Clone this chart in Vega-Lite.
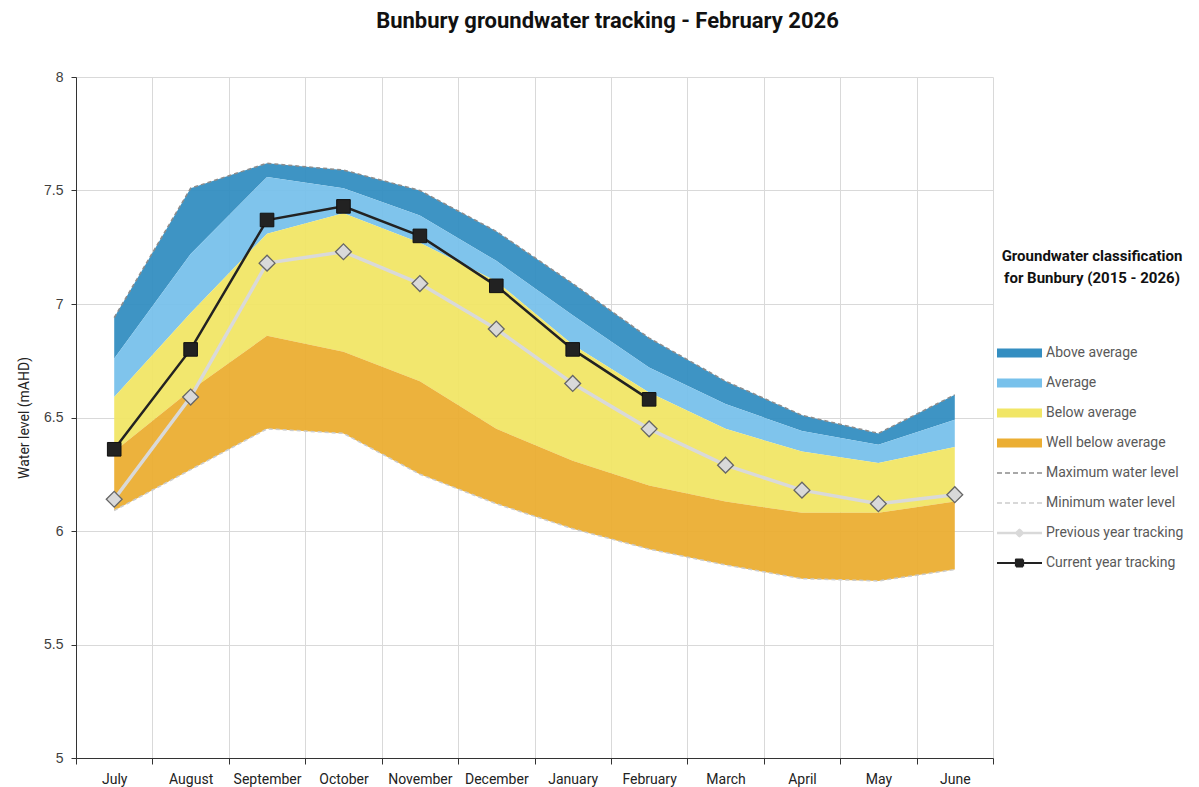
{
  "$schema": "https://vega.github.io/schema/vega-lite/v6.json",
  "width": 917,
  "height": 681,
  "autosize": {"type": "none"},
  "padding": {"left": 76, "top": 77, "right": 206, "bottom": 29},
  "background": "white",
  "config": {"view": {"stroke": null}},
  "title": {"text": "Bunbury groundwater tracking - February 2026", "font": "Roboto", "fontSize": 22, "fontWeight": "bold", "color": "#111111", "anchor": "middle", "dx": 73, "offset": 37},
  "data": {"values": [
    {"month": "July", "max": 6.94, "aa": 6.76, "ab": 6.59, "bw": 6.35, "min": 6.09, "cur": 6.36, "prev": 6.14},
    {"month": "August", "max": 7.51, "aa": 7.22, "ab": 6.96, "bw": 6.62, "min": 6.27, "cur": 6.80, "prev": 6.59},
    {"month": "September", "max": 7.62, "aa": 7.56, "ab": 7.31, "bw": 6.86, "min": 6.45, "cur": 7.37, "prev": 7.18},
    {"month": "October", "max": 7.59, "aa": 7.51, "ab": 7.40, "bw": 6.79, "min": 6.43, "cur": 7.43, "prev": 7.23},
    {"month": "November", "max": 7.50, "aa": 7.39, "ab": 7.27, "bw": 6.66, "min": 6.25, "cur": 7.30, "prev": 7.09},
    {"month": "December", "max": 7.32, "aa": 7.19, "ab": 7.10, "bw": 6.45, "min": 6.12, "cur": 7.08, "prev": 6.89},
    {"month": "January", "max": 7.09, "aa": 6.95, "ab": 6.82, "bw": 6.31, "min": 6.01, "cur": 6.80, "prev": 6.65},
    {"month": "February", "max": 6.85, "aa": 6.72, "ab": 6.61, "bw": 6.20, "min": 5.92, "cur": 6.58, "prev": 6.45},
    {"month": "March", "max": 6.66, "aa": 6.56, "ab": 6.45, "bw": 6.13, "min": 5.85, "prev": 6.29},
    {"month": "April", "max": 6.51, "aa": 6.44, "ab": 6.35, "bw": 6.08, "min": 5.79, "prev": 6.18},
    {"month": "May", "max": 6.43, "aa": 6.38, "ab": 6.30, "bw": 6.08, "min": 5.78, "prev": 6.12},
    {"month": "June", "max": 6.60, "aa": 6.49, "ab": 6.37, "bw": 6.13, "min": 5.83, "prev": 6.16}
  ]},
  "encoding": {
    "x": {
      "field": "month", "type": "ordinal",
      "sort": ["July","August","September","October","November","December","January","February","March","April","May","June"],
      "scale": {"type": "band", "paddingInner": 0, "paddingOuter": 0, "domain": ["July","August","September","October","November","December","January","February","March","April","May","June"]},
      "axis": {"title": null, "tickBand": "extent", "grid": true, "gridColor": "#d9d9d9", "gridWidth": 1, "domainColor": "#333333", "tickColor": "#333333", "tickSize": 6, "labelFont": "Roboto", "labelFontSize": 14, "labelColor": "#222222", "labelPadding": 8, "labelAngle": 0}
    }
  },
  "layer": [
    {"mark": {"type": "area", "fillOpacity": 0.95},
     "encoding": {
       "y": {"field": "max", "type": "quantitative", "title": "Water level (mAHD)",
             "scale": {"domain": [5, 8], "nice": false, "zero": false},
             "axis": {"values": [5, 5.5, 6, 6.5, 7, 7.5, 8], "format": "~g", "grid": true, "gridColor": "#d9d9d9", "domainColor": "#333333", "tickColor": "#333333", "tickSize": 5, "labelPadding": 8, "labelFont": "Liberation Sans", "labelFontSize": 14, "labelColor": "#404040", "titleFont": "Roboto", "titleFontSize": 14, "titleFontWeight": "normal", "titleColor": "#222222", "titlePadding": 12}},
       "y2": {"field": "aa"},
       "color": {"datum": "Above average", "type": "nominal",
         "scale": {"domain": ["Above average","Average","Below average","Well below average","Maximum water level","Minimum water level","Previous year tracking","Current year tracking"],
                   "range": ["#348EC1","#78C1EB","#F1E666","#EBAE33","#8c8c8c","#cccccc","#d9d9d9","#222222"]},
         "legend": {
           "title": ["Groundwater classification", "for Bunbury (2015 - 2026)"],
           "orient": "none", "legendX": 924, "legendY": 172,
           "titleFont": "Roboto", "titleFontSize": 15, "titleFontWeight": "bold", "titleColor": "#111111", "titleLineHeight": 22, "titlePadding": 60, "titleLimit": 400, "titleAlign": "center", "titleAnchor": "middle",
           "labelFont": "Roboto", "labelFontSize": 14, "labelColor": "#595959", "labelOffset": 32, "labelLimit": 300,
           "symbolSize": 400, "rowPadding": 16, "padding": 0,
           "encode": {"symbols": {"update": {
             "shape": {"signal": "indexof(['Above average','Average','Below average','Well below average'], datum.value) >= 0 ? 'M-1,-0.45H3.5V0.45H-1Z' : datum.value == 'Previous year tracking' ? 'M-1,0H3.5M1.25,-0.32L1.57,0L1.25,0.32L0.93,0Z' : datum.value == 'Current year tracking' ? 'M-1,0H3.5M0.9,-0.35H1.6V0.35H0.9Z' : 'M-1,0H3.5'"},
             "fill": {"signal": "indexof(['Above average','Average','Below average','Well below average'], datum.value) >= 0 ? scale('color', datum.value) : datum.value == 'Current year tracking' ? '#222222' : datum.value == 'Previous year tracking' ? '#f2f2f2' : 'transparent'"},
             "stroke": {"signal": "indexof(['Above average','Average','Below average','Well below average'], datum.value) >= 0 ? 'transparent' : datum.value == 'Maximum water level' ? '#777777' : scale('color', datum.value)"},
             "strokeWidth": {"signal": "datum.value == 'Previous year tracking' ? 2.5 : datum.value == 'Current year tracking' ? 2.2 : indexof(['Maximum water level','Minimum water level'], datum.value) >= 0 ? 1.5 : 0"},
             "strokeDash": {"signal": "indexof(['Maximum water level','Minimum water level'], datum.value) >= 0 ? [5,3] : [1,0]"},
             "strokeJoin": {"value": "round"},
             "opacity": {"value": 1},
             "fillOpacity": {"value": 1},
             "strokeOpacity": {"value": 1}
           }}}
         }}
     }},
    {"mark": {"type": "area", "fillOpacity": 0.95},
     "encoding": {"y": {"field": "aa", "type": "quantitative", "title": "Water level (mAHD)"}, "y2": {"field": "ab"}, "color": {"datum": "Average", "type": "nominal"}}},
    {"mark": {"type": "area", "fillOpacity": 0.95},
     "encoding": {"y": {"field": "ab", "type": "quantitative", "title": "Water level (mAHD)"}, "y2": {"field": "bw"}, "color": {"datum": "Below average", "type": "nominal"}}},
    {"mark": {"type": "area", "fillOpacity": 0.95},
     "encoding": {"y": {"field": "bw", "type": "quantitative", "title": "Water level (mAHD)"}, "y2": {"field": "min"}, "color": {"datum": "Well below average", "type": "nominal"}}},
    {"mark": {"type": "line", "strokeDash": [4, 3], "strokeWidth": 1.5},
     "encoding": {"y": {"field": "max", "type": "quantitative", "title": "Water level (mAHD)"}, "color": {"datum": "Maximum water level", "type": "nominal"}}},
    {"mark": {"type": "line", "strokeDash": [4, 3], "strokeWidth": 1.5},
     "encoding": {"y": {"field": "min", "type": "quantitative", "title": "Water level (mAHD)"}, "color": {"datum": "Minimum water level", "type": "nominal"}}},
    {"mark": {"type": "line", "strokeWidth": 3.5},
     "encoding": {"y": {"field": "prev", "type": "quantitative", "title": "Water level (mAHD)"}, "color": {"datum": "Previous year tracking", "type": "nominal"}}},
    {"mark": {"type": "point", "shape": "diamond", "filled": true, "fill": "#d9d9d9", "stroke": "#666666", "strokeWidth": 1.3, "size": 250, "opacity": 1},
     "encoding": {"y": {"field": "prev", "type": "quantitative", "title": "Water level (mAHD)"}}},
    {"mark": {"type": "line", "strokeWidth": 2.5},
     "encoding": {"y": {"field": "cur", "type": "quantitative", "title": "Water level (mAHD)"}, "color": {"datum": "Current year tracking", "type": "nominal"}}},
    {"mark": {"type": "point", "shape": "square", "filled": true, "fill": "#222222", "stroke": "#111111", "strokeWidth": 1, "size": 185, "opacity": 1},
     "encoding": {"y": {"field": "cur", "type": "quantitative", "title": "Water level (mAHD)"}}}
  ]
}
